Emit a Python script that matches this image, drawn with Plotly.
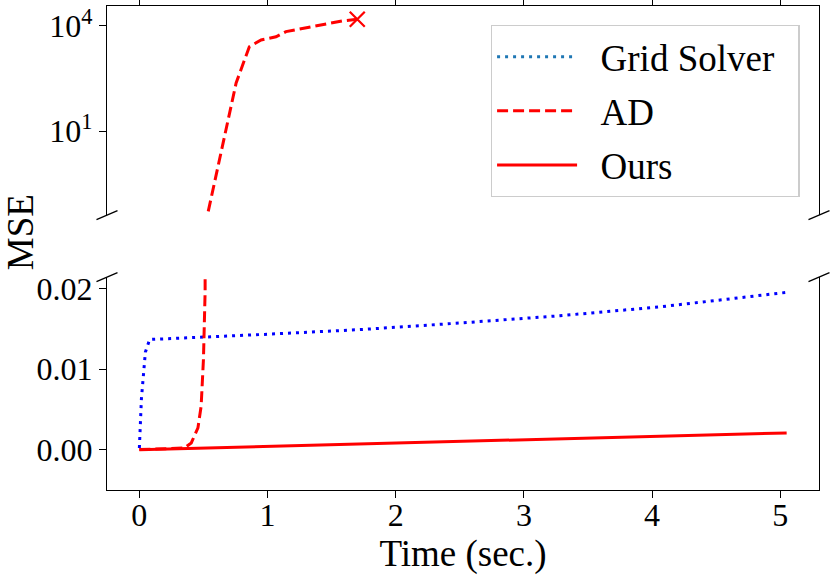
import plotly.graph_objects as go

# values
grid_t = [0.0, 0.016, 0.047, 0.08, 0.975, 1.75, 2.5, 3.28, 4.06, 5.05]
grid_mse = [0.0002, 0.0063, 0.0121, 0.01366, 0.01429, 0.01491, 0.0157, 0.0166, 0.0177, 0.0195]

ad_t = [0.0, 0.1, 0.2, 0.3, 0.35, 0.405, 0.457, 0.482, 0.50, 0.513,
        0.755, 0.858, 0.95, 1.066, 1.144, 1.247, 1.43, 1.585, 1.70]
ad_mse = [0.00001, 0.00004, 0.00008, 0.00012, 0.0002, 0.00083, 0.0027, 0.0054, 0.0112, 0.0196,
          236, 2570, 3980, 4900, 6900, 8200, 10700, 14000, 15500]

ours_t = [0.0, 2.5, 5.05]
ours_mse = [0.0, 0.00102, 0.00207]

lin_ticks = [0.0, 0.01, 0.02]
log_ticks = [10, 10000]
x_ticks = [0, 1, 2, 3, 4, 5]

FONT = "Liberation Serif, Times New Roman, serif"
dash_ad = "11px,5px"
dot_grid = "3px,5px"
pad = "\u00a0\u00a0"  # gap between legend swatch and label / right padding


def lbl(s):
    return pad + s + pad


fig = go.Figure()

# legend-only entry (swatch colour differs from the plotted line in the original)
fig.add_trace(go.Scatter(x=[None], y=[None], mode="lines", name=lbl("Grid Solver"),
                         legendgroup="g", line=dict(color="#1f77b4", width=3, dash=dot_grid)))

# bottom panel (linear)
fig.add_trace(go.Scatter(x=grid_t, y=grid_mse, mode="lines", showlegend=False,
                         line=dict(color="blue", width=3, dash=dot_grid),
                         xaxis="x", yaxis="y"))
fig.add_trace(go.Scatter(x=ad_t, y=ad_mse, mode="lines", name=lbl("AD"), legendgroup="a",
                         line=dict(color="red", width=3, dash=dash_ad),
                         xaxis="x", yaxis="y"))
fig.add_trace(go.Scatter(x=ours_t, y=ours_mse, mode="lines", name=lbl("Ours"), legendgroup="o",
                         line=dict(color="red", width=3),
                         xaxis="x", yaxis="y"))

# top panel (log)
fig.add_trace(go.Scatter(x=ad_t[1:], y=ad_mse[1:], mode="lines", showlegend=False,
                         line=dict(color="red", width=3, dash=dash_ad),
                         xaxis="x2", yaxis="y2"))
fig.add_trace(go.Scatter(x=ad_t[-1:], y=ad_mse[-1:], mode="markers", showlegend=False,
                         marker=dict(symbol="x-thin", size=15, line=dict(color="red", width=2.2)),
                         xaxis="x2", yaxis="y2"))

axis_common = dict(showline=True, linecolor="black", linewidth=1.3, ticks="outside",
                   ticklen=7, tickwidth=1.3, tickcolor="black", showgrid=False,
                   zeroline=False, automargin=False,
                   tickfont=dict(size=32, color="black", family=FONT))

fig.update_layout(
    width=830, height=576,
    margin=dict(l=107, r=11, t=6, b=86),
    paper_bgcolor="white", plot_bgcolor="white",
    font=dict(family=FONT, color="black"),
    xaxis=dict(axis_common, domain=[0, 1], anchor="y", range=[-0.2525, 5.3025],
               tickvals=x_ticks, mirror=False, ticklabelstandoff=-11,
               title=dict(text="Time (sec.)", font=dict(size=37), standoff=0)),
    xaxis2=dict(axis_common, domain=[0, 1], anchor="y2", matches="x", side="top",
                tickvals=x_ticks, showticklabels=False, mirror=False),
    yaxis=dict(axis_common, domain=[0, 0.44], anchor="x", range=[-0.005, 0.0214],
               tickvals=lin_ticks, ticktext=["0.00", "0.01", "0.02"], mirror=True),
    yaxis2=dict(axis_common, domain=[0.568, 1], anchor="x2", type="log",
                range=[-1.4, 4.571], tickvals=log_ticks,
                ticktext=["10<sup>1</sup>", "10<sup>4</sup>"], mirror=True),
    legend=dict(x=0.973, xanchor="right", y=0.961, yanchor="top",
                bgcolor="white", bordercolor="#cccccc", borderwidth=1.3,
                font=dict(size=37, family=FONT), itemwidth=80,
                tracegroupgap=3),
    annotations=[dict(text="MSE", textangle=-90, xref="paper", yref="paper",
                      x=-0.122, y=0.533, xanchor="center", yanchor="middle",
                      showarrow=False, font=dict(size=37))],
)

# diagonal break marks
for xa in (0, 1):
    for ya in (0.44, 0.568):
        fig.add_shape(type="line", xref="paper", yref="paper",
                      xsizemode="pixel", ysizemode="pixel", xanchor=xa, yanchor=ya,
                      x0=-10.5, x1=10.5, y0=-4.5, y1=4.5,
                      line=dict(color="black", width=1.3))

# drop the page's default body margin so the figure sits at the window's corner
fig.write_html("out.html", config={"displayModeBar": False},
               post_script="document.body.style.margin='0';")
